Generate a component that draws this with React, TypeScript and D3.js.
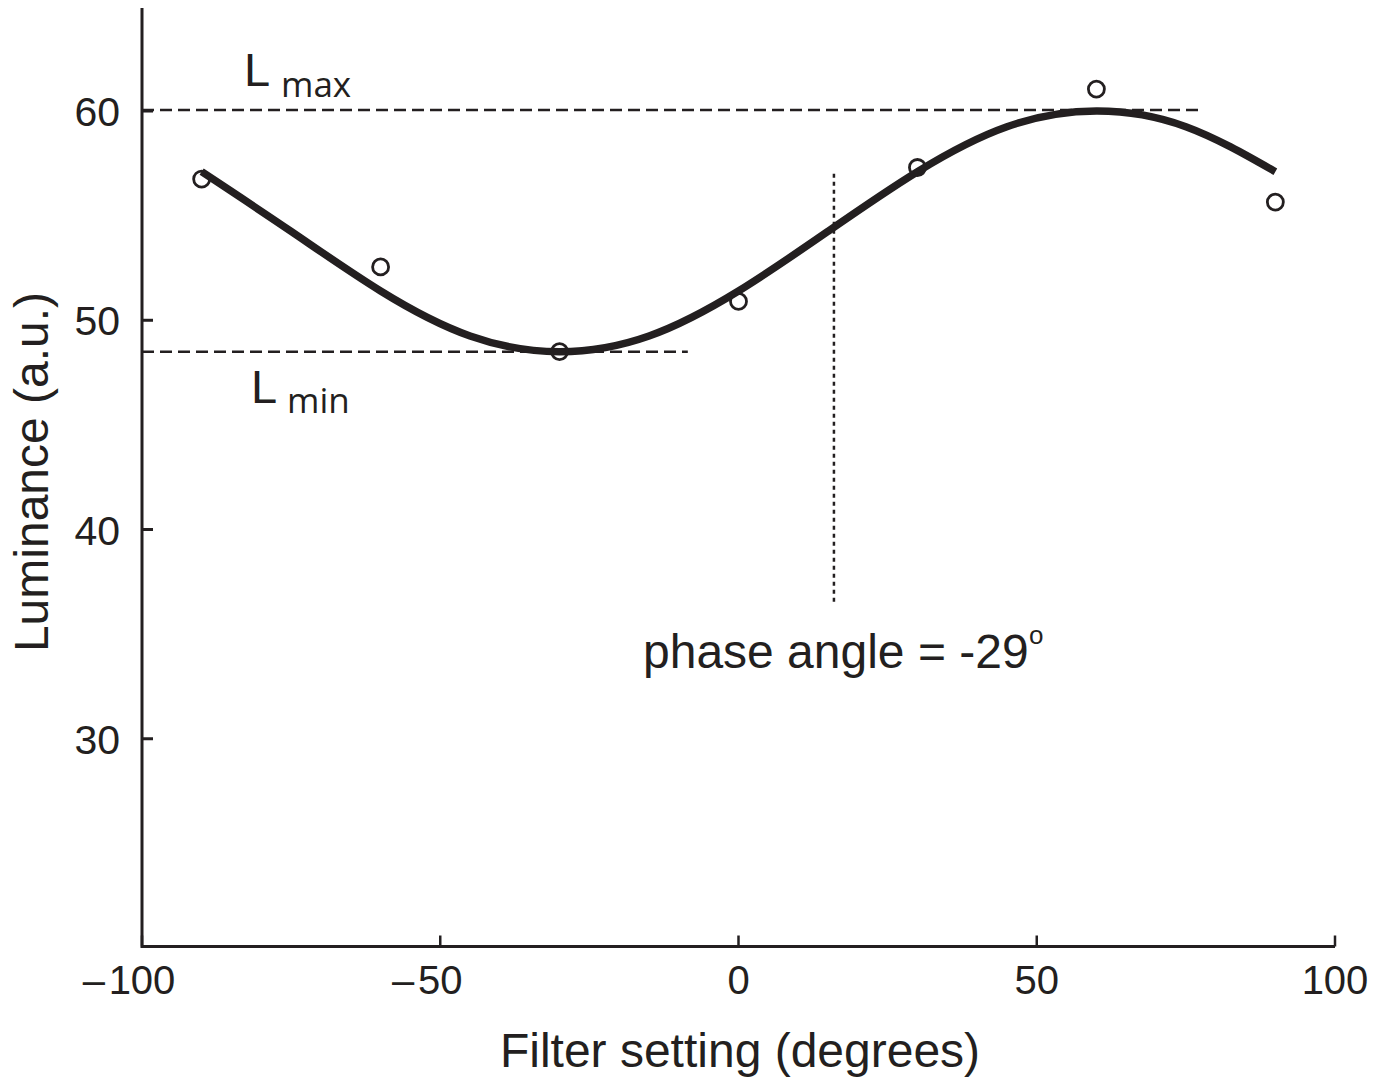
import React from "react";
import * as d3 from "d3";

// measured points (filter setting, luminance)
const pointX = [-90, -60, -30, 0, 30, 60, 90];
const pointY = [56.75, 52.55, 48.5, 50.9, 57.3, 61.05, 55.65];

// fitted curve, every 15 degrees
const fitX = [-90, -75, -60, -45, -30, -15, 0, 15, 30, 45, 60, 75, 90];
const fitY = [57.1, 54.25, 51.4, 49.25, 48.5, 49.25, 51.4, 54.25, 57.1, 59.25, 60, 59.25, 57.1];

const xTicks = [-100, -50, 0, 50, 100];
const yTicks = [30, 40, 50, 60];

const lMax = 60.05;
const lMin = 48.5;
const lMaxEnd = 77.4;
const lMinEnd = -8.5;
const phaseX = 16;
const phaseTop = 57;
const phaseBottom = 36.5;

const ink = "#231f20";
const font = "'Liberation Sans', Arial, Helvetica, sans-serif";
const subFont = "'Open Sans', 'Noto Sans', sans-serif";

export default function App() {
  const x = d3.scaleLinear().domain([-100, 100]).range([142, 1335]);
  const y = d3.scaleLinear().domain([20, 65]).range([948, 6.4]);

  const line = d3
    .line<number>()
    .x((d, i) => x(fitX[i]))
    .y(d => y(d))
    .curve(d3.curveNatural);

  const axisY = 946.5;

  return (
    <svg
      width={1388}
      height={1080}
      style={{ position: "absolute", left: 0, top: 0, background: "#fff" }}
    >
      {/* axes */}
      <path
        d={`M${x(-100)},8 V${axisY} H${x(100)}`}
        fill="none"
        stroke={ink}
        strokeWidth={3}
      />
      {xTicks.map(t => (
        <g key={"x" + t} fontFamily={font} fontSize={40} fill={ink}>
          <line x1={x(t)} x2={x(t)} y1={axisY} y2={axisY - 11} stroke={ink} strokeWidth={2.5} />
          <text x={x(t)} y={994} textAnchor="middle">
            {Math.abs(t)}
          </text>
          {t < 0 && (
            <text x={x(t) - 11 * String(Math.abs(t)).length - 4} y={994} textAnchor="end">
              {"\u2013"}
            </text>
          )}
        </g>
      ))}
      {yTicks.map(t => (
        <g key={"y" + t}>
          <line x1={x(-100)} x2={x(-100) + 11} y1={y(t)} y2={y(t)} stroke={ink} strokeWidth={3} />
          <text
            x={120}
            y={y(t) + 15}
            textAnchor="end"
            fontFamily={font}
            fontSize={41}
            fill={ink}
          >
            {t}
          </text>
        </g>
      ))}

      {/* axis titles */}
      <text
        x={740}
        y={1067}
        textAnchor="middle"
        fontFamily={font}
        fontSize={48}
        fill={ink}
      >
        Filter setting (degrees)
      </text>
      <text
        transform={`translate(48,472) rotate(-90)`}
        textAnchor="middle"
        fontFamily={font}
        fontSize={48}
        fill={ink}
      >
        Luminance (a.u.)
      </text>

      {/* Lmax / Lmin reference lines */}
      <line
        x1={x(-100)}
        x2={x(lMaxEnd)}
        y1={y(lMax)}
        y2={y(lMax)}
        stroke={ink}
        strokeWidth={2.5}
        strokeDasharray="12 6"
      />
      <line
        x1={x(-100)}
        x2={x(lMinEnd)}
        y1={y(lMin)}
        y2={y(lMin)}
        stroke={ink}
        strokeWidth={2.5}
        strokeDasharray="12 6"
      />
      <text x={244} y={86} fontFamily={font} fontSize={47} fill={ink}>
        L
        <tspan x={281} y={97} fontFamily={subFont} fontSize={35}>
          max
        </tspan>
      </text>
      <text x={251} y={403} fontFamily={font} fontSize={47} fill={ink}>
        L
        <tspan x={287} y={413} fontFamily={subFont} fontSize={35}>
          min
        </tspan>
      </text>

      {/* phase marker */}
      <line
        x1={x(phaseX)}
        x2={x(phaseX)}
        y1={y(phaseTop)}
        y2={y(phaseBottom)}
        stroke={ink}
        strokeWidth={2.5}
        strokeDasharray="4 4"
      />
      <text fontFamily={font} fill={ink}>
        <tspan x={643} y={668} fontSize={48}>
          phase angle = -29
        </tspan>
        <tspan x={1029} y={644} fontSize={26}>
          o
        </tspan>
      </text>

      {/* fitted curve */}
      <path d={line(fitY) || ""} fill="none" stroke={ink} strokeWidth={7.5} />

      {/* data points */}
      {pointX.map((px, i) => (
        <circle
          key={"p" + px}
          cx={x(px)}
          cy={y(pointY[i])}
          r={8}
          fill="none"
          stroke={ink}
          strokeWidth={2.8}
        />
      ))}
    </svg>
  );
}
